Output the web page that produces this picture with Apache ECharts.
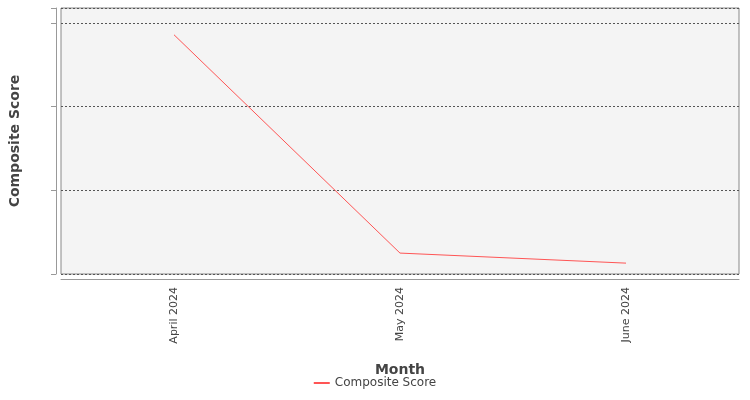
<!DOCTYPE html>
<html><head><meta charset="utf-8">
<script src="https://cdn.jsdelivr.net/npm/echarts@6/dist/echarts.min.js"></script>
<style>html,body{margin:0;padding:0;background:#fff}#c{width:750px;height:400px}</style>
</head><body><div id="c"></div>
<script>
const categories = ['April 2024','May 2024','June 2024'];
const scores = [84.94, 82.33, 82.21];
const chart = echarts.init(document.getElementById('c'));
const font = 'DejaVu Sans';
chart.setOption({
  animation:false,
  textStyle:{fontFamily:font},
  grid:{left:59,right:11,top:8,bottom:126,show:true,backgroundColor:'#f4f4f4',borderColor:'#888',borderWidth:1},
  legend:{bottom:6,left:'center',itemWidth:16,itemHeight:2,icon:'rect',
    textStyle:{fontFamily:font,fontSize:12,color:'#444'},data:['Composite Score']},
  xAxis:{type:'category',data:categories,boundaryGap:true,offset:5,
    name:'Month',nameLocation:'middle',nameGap:84,
    nameTextStyle:{fontFamily:font,fontSize:14,fontWeight:'bold',color:'#444'},
    axisLine:{lineStyle:{color:'#999'}},axisTick:{alignWithLabel:true,lineStyle:{color:'#999'}},
    axisLabel:{rotate:90,fontSize:11,color:'#444',fontFamily:font},splitLine:{show:false}},
  yAxis:{type:'value',min:82.08,max:85.26,interval:1,offset:5,
    name:'Composite Score',nameLocation:'middle',nameGap:34,
    nameTextStyle:{fontFamily:font,fontSize:14,fontWeight:'bold',color:'#444'},
    axisLine:{show:true,lineStyle:{color:'#999'}},axisTick:{show:true,lineStyle:{color:'#999'}},
    axisLabel:{fontSize:11,color:'#444',fontFamily:font,
      formatter:v=>Number.isInteger(Math.round(v*1000)/1000)&&Math.abs(v-Math.round(v))<1e-6?String(Math.round(v)):''},
    splitLine:{lineStyle:{color:'#555',type:[2,2]}}},
  series:[{name:'Composite Score',type:'line',data:scores,showSymbol:false,
    lineStyle:{color:'#ff5555',width:1},itemStyle:{color:'#ff5555'}}]
});
</script></body></html>
